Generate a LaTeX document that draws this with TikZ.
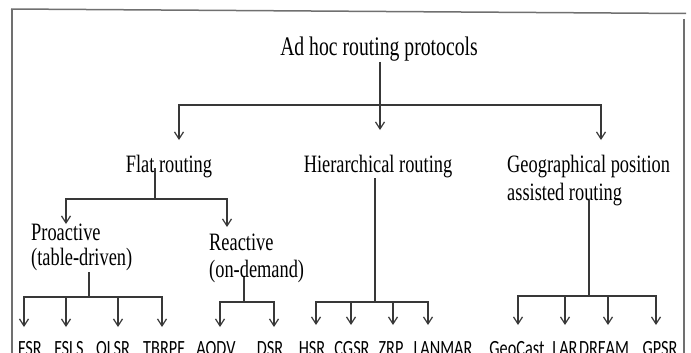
\documentclass[tikz,border=0pt]{standalone}
\usepackage{fontspec}
\usetikzlibrary{arrows.meta}
\newfontfamily\serifA[FakeStretch=0.735]{Liberation Serif}
\newfontfamily\sansA[FakeStretch=0.75]{Carlito}
\definecolor{linegray}{HTML}{383838}
\definecolor{framegray}{HTML}{707070}
\tikzset{
  conn/.style={draw=linegray, line width=1.3pt},
  arr/.style={conn, -{Straight Barb[length=7pt,width=9pt,line width=1.2pt]}},
  frame/.style={draw=framegray, line width=1.5pt},
  ttl/.style={inner sep=0pt, anchor=base, font=\fontsize{26.8}{30}\selectfont\serifA},
  cat/.style={inner sep=0pt, font=\fontsize{25}{28}\selectfont\serifA},
  leaf/.style={inner sep=0pt, anchor=base, font=\fontsize{21.7}{24}\selectfont\sansA},
}
\begin{document}
\begin{tikzpicture}[x=1pt,y=-1pt]
\useasboundingbox (0,0) rectangle (691,353);
\fill[white] (0,0) rectangle (691,353);
% frame
\draw[frame] (11,9) -- (686,13.5);
\draw[frame] (12,9) -- (12,360);
\draw[frame] (684,19) -- (684,360);

% texts
\node[ttl] (title) at (379,56) {Ad hoc routing protocols};
\node[cat, anchor=base] (flat) at (169,172) {Flat routing};
\node[cat, anchor=base] (hier) at (378,172) {Hierarchical routing};
\node[cat, anchor=base west] (geo1) at (507,172) {Geographical position};
\node[cat, anchor=base west] (geo2) at (507,200) {assisted routing};
\node[cat, anchor=base west] (pro1) at (31,240) {Proactive};
\node[cat, anchor=base west] (pro2) at (31,265) {(table-driven)};
\node[cat, anchor=base west] (rea1) at (209,250) {Reactive};
\node[cat, anchor=base west] (rea2) at (209,277) {(on-demand)};

\node[leaf] (fsr)    at (30,355)  {FSR};
\node[leaf] (fsls)   at (69,355)  {FSLS};
\node[leaf] (olsr)   at (113,355) {OLSR};
\node[leaf] (tbrpf)  at (164,355) {TBRPF};
\node[leaf] (aodv)   at (216,355) {AODV};
\node[leaf] (dsr)    at (270,355) {DSR};
\node[leaf] (hsr)    at (312,355) {HSR};
\node[leaf] (cgsr)   at (352,355) {CGSR};
\node[leaf] (zrp)    at (391,355) {ZRP};
\node[leaf] (lanmar) at (443,355) {LANMAR};
\node[leaf] (geocast) at (517,355) {GeoCast};
\node[leaf] (lar)    at (565,355) {LAR};
\node[leaf] (dream)  at (604,355) {DREAM};
\node[leaf] (gpsr)   at (660,355) {GPSR};

% level 1
\coordinate (t0) at (380,62);
\coordinate (t1) at (380,105);
\coordinate (tflat) at (179,140);
\coordinate (thier) at (380,130);
\coordinate (tgeo) at (601,140);
\draw[arr] (t0) -- (thier);
\draw[arr] (t1) -| (tflat);
\draw[arr] (t1) -| (tgeo);

% flat routing
\coordinate (f0) at (155,168);
\coordinate (f1) at (155,199);
\coordinate (tpro) at (66,224);
\coordinate (trea) at (227,227);
\draw[conn] (f0) -- (f1);
\draw[arr] (f1) -| (tpro);
\draw[arr] (f1) -| (trea);

% proactive
\coordinate (p0) at (89,272);
\coordinate (p1) at (89,297);
\draw[conn] (p0) -- (p1);
\coordinate (afsr) at (24,327);
\coordinate (afsls) at (66,327);
\coordinate (aolsr) at (118,327);
\coordinate (atbrpf) at (162,327);
\draw[arr] (p1) -| (afsr);
\draw[arr] (p1) -| (atbrpf);
\draw[arr] (afsls |- p1) -- (afsls);
\draw[arr] (aolsr |- p1) -- (aolsr);

% reactive
\coordinate (r0) at (244,277);
\coordinate (r1) at (244,302);
\draw[conn] (r0) -- (r1);
\coordinate (aaodv) at (220,327);
\coordinate (adsr) at (274,327);
\draw[arr] (r1) -| (aaodv);
\draw[arr] (r1) -| (adsr);

% hierarchical
\coordinate (h0) at (375,178);
\coordinate (h1) at (375,302);
\draw[conn] (h0) -- (h1);
\coordinate (ahsr) at (316,325);
\coordinate (acgsr) at (351,325);
\coordinate (azrp) at (393,325);
\coordinate (alanmar) at (428,325);
\draw[arr] (h1) -| (ahsr);
\draw[arr] (h1) -| (alanmar);
\draw[arr] (acgsr |- h1) -- (acgsr);
\draw[arr] (azrp |- h1) -- (azrp);

% geographical
\coordinate (g0) at (589,200);
\coordinate (g1) at (589,296);
\draw[conn] (g0) -- (g1);
\coordinate (ageocast) at (518,325);
\coordinate (alar) at (565,325);
\coordinate (adream) at (608,325);
\coordinate (agpsr) at (656,325);
\draw[arr] (g1) -| (ageocast);
\draw[arr] (g1) -| (agpsr);
\draw[arr] (alar |- g1) -- (alar);
\draw[arr] (adream |- g1) -- (adream);
\end{tikzpicture}
\end{document}
